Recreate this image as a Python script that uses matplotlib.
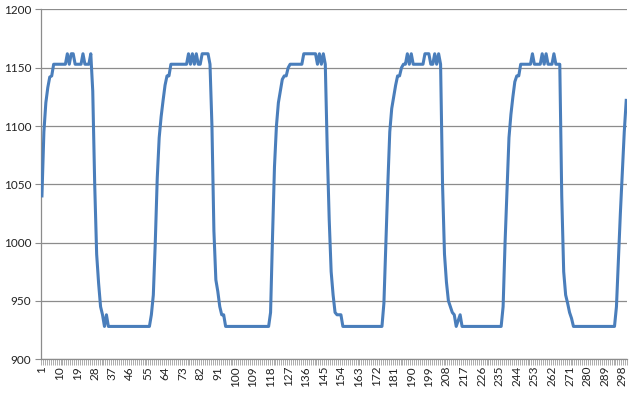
import matplotlib.pyplot as plt
import numpy as np

# readings, one list per cycle (points 1..300)
cycle1 = [1040, 1095, 1120, 1133, 1142, 1143,
          1153, 1153, 1153, 1153, 1153, 1153, 1153,
          1162, 1153, 1162, 1162, 1153, 1153, 1153, 1153, 1162, 1153, 1153, 1153, 1162,
          1130, 1050, 990, 965, 945, 938, 928, 938,
          928, 928, 928, 928, 928, 928, 928, 928, 928, 928, 928,
          928, 928, 928, 928, 928, 928, 928, 928, 928, 928, 928]
cycle2 = [938, 955, 1000, 1055, 1090, 1108, 1122, 1135, 1143, 1143, 1153,
          1153, 1153, 1153, 1153, 1153, 1153, 1153, 1153,
          1162, 1153, 1162, 1153, 1162, 1153, 1153, 1162, 1162, 1162, 1162, 1153,
          1100, 1010, 968, 958, 945, 938, 938, 928,
          928, 928, 928, 928, 928, 928, 928, 928, 928, 928, 928,
          928, 928, 928, 928, 928, 928, 928, 928, 928, 928, 928]
cycle3 = [940, 1005, 1065, 1100, 1120, 1130, 1140, 1143, 1143, 1150,
          1153, 1153, 1153, 1153, 1153, 1153, 1153,
          1162, 1162, 1162, 1162, 1162, 1162, 1162,
          1153, 1162, 1153, 1162, 1153,
          1080, 1020, 975, 955, 940, 938, 938, 938,
          928, 928, 928, 928, 928, 928, 928, 928, 928, 928, 928,
          928, 928, 928, 928, 928, 928, 928, 928, 928, 928]
cycle4 = [948, 1000, 1050, 1095, 1115, 1125, 1135, 1143, 1143, 1150, 1153, 1153,
          1162, 1153, 1162, 1153, 1153, 1153, 1153, 1153, 1153,
          1162, 1162, 1162, 1153, 1153, 1162, 1153, 1162, 1153,
          1050, 990, 966, 950, 945, 940, 938, 928, 933, 938,
          928, 928, 928, 928, 928, 928, 928, 928, 928, 928, 928,
          928, 928, 928, 928, 928, 928, 928, 928, 928, 928]
cycle5 = [945, 1000, 1045, 1090, 1110, 1125, 1138, 1143, 1143,
          1153, 1153, 1153, 1153, 1153, 1153,
          1162, 1153, 1153, 1153, 1153, 1162, 1153, 1162, 1153, 1153, 1153,
          1162, 1153, 1153, 1153,
          1040, 975, 955, 948, 940, 935,
          928, 928, 928, 928, 928, 928, 928, 928, 928, 928, 928,
          928, 928, 928, 928, 928, 928, 928, 928, 928, 928, 928,
          945, 985, 1025, 1060, 1095, 1122]

values = cycle1 + cycle2 + cycle3 + cycle4 + cycle5
x = np.arange(1, len(values) + 1)
tick_labels = list(range(1, len(values) + 1, 9))

plt.rcParams['font.family'] = ['Lato', 'DejaVu Sans']

fig = plt.figure(figsize=(6.4, 3.95), dpi=100)
ax = fig.add_axes([0.064, 0.091, 0.916, 0.885])

ax.plot(x, values, color='#4a7ebb', linewidth=2.2, solid_joinstyle='round', zorder=3)

ax.set_ylim(900, 1200)
ax.set_yticks(range(900, 1201, 50))
ax.set_xlim(0.5, len(values) + 0.5)
ax.set_xticks(tick_labels)
ax.set_xticklabels([str(t) for t in tick_labels], rotation=90)
ax.set_xticks(np.arange(0.5, len(values) + 1, 1), minor=True)

ax.grid(axis='y', color='#8c8c8c', linewidth=0.9)
ax.set_axisbelow(True)
for s in ['top', 'right']:
    ax.spines[s].set_visible(False)
for s in ['left', 'bottom']:
    ax.spines[s].set_color('#8c8c8c')
    ax.spines[s].set_linewidth(0.9)

ax.tick_params(axis='y', length=4, color='#8c8c8c', labelsize=8.5, labelcolor='#222222', pad=3)
ax.tick_params(axis='x', which='major', length=0, labelsize=8.5, labelcolor='#222222', pad=5)
ax.tick_params(axis='x', which='minor', length=4, width=0.5, color='#8c8c8c')

plt.savefig('out.png')
